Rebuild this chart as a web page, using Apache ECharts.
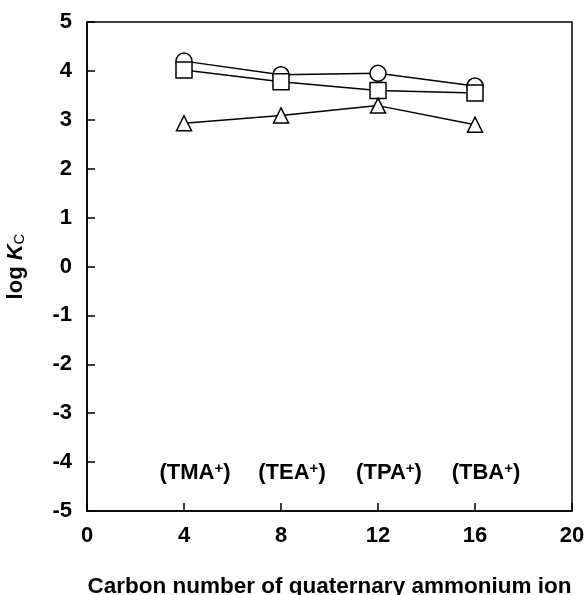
<!DOCTYPE html>
<html>
<head>
<meta charset="utf-8">
<script src="https://cdn.jsdelivr.net/npm/echarts@6/dist/echarts.min.js"></script>
<style>
  html, body { margin: 0; padding: 0; background: #fff; }
  #main { width: 584px; height: 595px; }
</style>
</head>
<body>
<div id="main"></div>
<script>
// carbon number of the quaternary ammonium ion
var carbon = [4, 8, 12, 16];
var ions = ['TMA', 'TEA', 'TPA', 'TBA'];
// log Kc for the three series (circles, squares, triangles)
var circleVals = [4.20, 3.92, 3.95, 3.69];
var squareVals = [4.02, 3.78, 3.60, 3.55];
var triangleVals = [2.93, 3.09, 3.29, 2.90];
var labelLevel = -4.22;

var FONT = "'Liberation Sans', Arial, sans-serif";

function pairs(vals) {
  return carbon.map(function (c, i) { return [c, vals[i]]; });
}

function lineSeries(name, symbol, size, vals) {
  return {
    name: name,
    type: 'line',
    data: pairs(vals),
    symbol: symbol,
    symbolSize: size,
    showAllSymbol: true,
    lineStyle: { color: '#000', width: 1.5 },
    itemStyle: { color: '#fff', borderColor: '#000', borderWidth: 1.5 },
    emphasis: { disabled: true },
    animation: false
  };
}

var myChart = echarts.init(document.getElementById('main'));
var opt = {
  backgroundColor: '#fff',
  grid: {
    left: 87, right: 12, top: 22, bottom: 84,
    outerBoundsMode: 'none',
    show: true, borderColor: '#000', borderWidth: 1.5
  },
  xAxis: {
    type: 'value',
    min: 0, max: 20, interval: 4,
    name: 'Carbon number of quaternary ammonium ion',
    nameLocation: 'middle',
    nameGap: 64,
    nameTextStyle: { fontFamily: FONT, fontWeight: 'bold', fontSize: 22.5, color: '#000' },
    axisLine: { onZero: false, lineStyle: { color: '#000', width: 1.5 } },
    axisTick: { inside: true, length: 8, lineStyle: { color: '#000', width: 1.5 } },
    axisLabel: { fontFamily: FONT, fontWeight: 'bold', fontSize: 22, color: '#000', margin: 14 },
    splitLine: { show: false }
  },
  yAxis: {
    type: 'value',
    min: -5, max: 5, interval: 1,
    name: 'log {i|K}{sub|C}',
    nameLocation: 'middle',
    nameGap: 60,
    nameTextStyle: {
      fontFamily: FONT, fontWeight: 'bold', fontSize: 22, color: '#000',
      rich: {
        i: { fontFamily: FONT, fontWeight: 'bold', fontStyle: 'italic', fontSize: 22, color: '#000' },
        sub: { fontFamily: FONT, fontWeight: 'normal', fontSize: 15, color: '#000', padding: [8, 0, 0, 0] }
      }
    },
    axisLine: { onZero: false, lineStyle: { color: '#000', width: 1.5 } },
    axisTick: { inside: true, length: 8, lineStyle: { color: '#000', width: 1.5 } },
    axisLabel: { fontFamily: FONT, fontWeight: 'bold', fontSize: 22, color: '#000', margin: 15 },
    splitLine: { show: false }
  },
  series: [
    lineSeries('circle', 'circle', 16, circleVals),
    lineSeries('square', 'rect', 16, squareVals),
    lineSeries('triangle', 'triangle', 15, triangleVals),
    {
      name: 'ions',
      type: 'scatter',
      symbolSize: 0,
      itemStyle: { opacity: 1 },
      data: carbon.map(function (c, i) { return { value: [c, labelLevel], name: ions[i] }; }),
      label: {
        show: true,
        position: 'inside',
        offset: [11, 0],
        formatter: function (p) { return '(' + p.name + '{sup|+})'; },
        fontFamily: FONT, fontWeight: 'bold', fontSize: 22, color: '#000',
        rich: {
          sup: { fontFamily: FONT, fontWeight: 'bold', fontSize: 15, color: '#000', padding: [0, 0, 8, 0] }
        }
      },
      emphasis: { disabled: true },
      animation: false
    }
  ]
};
myChart.setOption(opt);
</script>
</body>
</html>
